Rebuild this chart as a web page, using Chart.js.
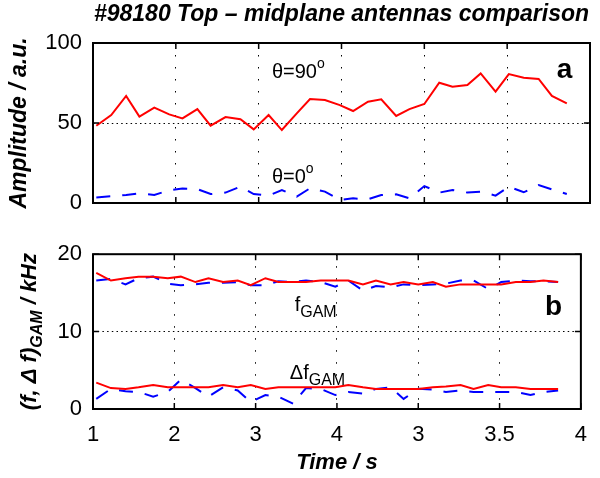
<!DOCTYPE html>
<html>
<head>
<meta charset="utf-8">
<script src="https://cdn.jsdelivr.net/npm/chart.js@4.4.1/dist/chart.umd.min.js"></script>
<style>
  html, body { margin: 0; padding: 0; background: #fff; }
  #wrap { position: relative; width: 600px; height: 478px; }
  canvas { position: absolute; left: 0; }
  #topChart { top: 0; }
  #botChart { top: 230px; }
</style>
</head>
<body>
<div id="wrap">
  <canvas id="topChart" width="600" height="230" style="width:600px;height:230px"></canvas>
  <canvas id="botChart" width="600" height="248" style="width:600px;height:248px"></canvas>
</div>
<script>
const FONT = '"Liberation Sans", Arial, Helvetica, sans-serif';

// time base (s)
const times = [1.02, 1.11, 1.20, 1.28, 1.37, 1.46, 1.54, 1.63, 1.71, 1.80,
               1.89, 1.97, 2.06, 2.14, 2.23, 2.31, 2.40, 2.49, 2.57, 2.66,
               2.74, 2.83, 2.91, 3.00, 3.09, 3.17, 3.26, 3.34, 3.43, 3.51,
               3.60, 3.69, 3.77, 3.86];

// panel a: amplitude
const ampTop = [48.3, 55, 66.9, 54, 59.6, 55.4, 52.9, 58.7, 48.3, 53.7,
                52.3, 46, 55, 45.6, 56, 65, 64.4, 61.2, 57.5, 63.3,
                64.8, 54.4, 58.7, 61.9, 75.2, 72.7, 73.7, 81, 69.6, 80.6,
                78.3, 77.5, 66.9, 62.3];
const ampMid = [3.5, 4.2, 5.0, 6.0, 5.0, 8.0, 9.0, 8.7, 5.6, 6.5,
                10.2, 5.6, 4.6, 8.1, 4.0, 9.2, 7.1, 2.0, 2.9, 2.3,
                5.0, 5.4, 2.9, 10.6, 6.5, 8.1, 6.5, 7.1, 4.6, 10.2,
                6.7, 11.2, 8.5, 5.6];

// panel b: GAM frequency and width (kHz)
const fTop = [17.6, 16.6, 16.9, 17.1, 17.1, 16.9, 17.1, 16.4, 16.9, 16.4,
              16.6, 16.0, 16.9, 16.4, 16.4, 16.4, 16.6, 16.6, 16.6, 16.1,
              16.6, 16.1, 16.4, 16.1, 16.4, 15.8, 16.1, 16.1, 16.1, 16.1,
              16.4, 16.4, 16.6, 16.4];
const fMid = [16.6, 16.8, 16.1, 16.9, 17.1, 16.2, 16.0, 16.1, 16.3, 16.3,
              16.4, 16.0, 16.0, 16.5, 16.4, 16.6, 16.4, 15.8, 16.6, 15.3,
              15.9, 15.7, 16.1, 16.0, 16.1, 16.2, 16.6, 16.6, 15.5, 16.4,
              16.6, 16.5, 16.5, 16.4];
const dfTop = [3.4, 2.7, 2.6, 2.8, 3.1, 2.8, 2.8, 2.8, 2.8, 3.1,
               2.8, 3.1, 2.6, 2.8, 2.8, 2.8, 2.8, 2.8, 3.1, 2.8,
               2.6, 2.6, 2.6, 2.6, 2.8, 2.9, 3.1, 2.6, 3.1, 2.8,
               2.8, 2.6, 2.6, 2.6];
const dfMid = [1.3, 2.6, 2.3, 2.2, 1.6, 2.2, 3.8, 2.7, 1.6, 2.8,
               2.4, 0.9, 1.8, 1.6, 0.7, 2.7, 2.6, 1.8, 2.2, 2.0,
               2.6, 2.8, 1.3, 2.6, 2.5, 2.2, 2.4, 2.2, 2.2, 2.2,
               2.2, 1.8, 2.2, 2.4];

// axis ticks (labels as printed on the figure)
const xTickValues = [1, 1.5, 2, 2.5, 3, 3.5, 4];
const xTickLabels = ['1', '2', '3', '4', '3', '3.5', '4'];
const yTopTicks = [0, 50, 100];
const yBotTicks = [0, 10, 20];

const RED = '#ff0000', BLUE = '#0000ff';
const pts = ys => ys.map((y, i) => ({x: times[i], y}));

function lineSet(ys, color, dashed) {
  return {
    data: pts(ys), borderColor: color, borderWidth: 2,
    borderDash: dashed ? [14, 12] : [], pointRadius: 0, tension: 0, fill: false
  };
}

// box round the axes and inward tick marks, like MATLAB
const frame = {
  id: 'frame',
  afterDraw(chart) {
    const {ctx, chartArea: a, scales} = chart;
    ctx.save();
    ctx.strokeStyle = '#000';
    ctx.lineWidth = 1.5;
    ctx.beginPath();
    scales.x.ticks.forEach(t => {
      const px = scales.x.getPixelForValue(t.value);
      ctx.moveTo(px, a.bottom); ctx.lineTo(px, a.bottom - 6);
      ctx.moveTo(px, a.top); ctx.lineTo(px, a.top + 6);
    });
    scales.y.ticks.forEach(t => {
      const py = scales.y.getPixelForValue(t.value);
      ctx.moveTo(a.left, py); ctx.lineTo(a.left + 6, py);
      ctx.moveTo(a.right, py); ctx.lineTo(a.right - 6, py);
    });
    ctx.stroke();
    ctx.lineWidth = 2;
    ctx.strokeRect(a.left, a.top, a.right - a.left, a.bottom - a.top);
    ctx.restore();
  }
};

// text made of pieces with sub/superscripts: [text, font, dy]
function pieces(ctx, x, y, parts) {
  let cx = x;
  parts.forEach(([t, f, dy]) => {
    ctx.font = f;
    ctx.fillText(t, cx, y + dy);
    cx += ctx.measureText(t).width;
  });
  return cx - x;
}

function labelsPlugin(items) {
  return {
    id: 'notes',
    afterDraw(chart) {
      const {ctx, scales} = chart;
      ctx.save();
      ctx.fillStyle = '#000';
      ctx.textBaseline = 'alphabetic';
      ctx.textAlign = 'left';
      items.forEach(it => {
        pieces(ctx, scales.x.getPixelForValue(it.x), scales.y.getPixelForValue(it.y), it.parts);
      });
      ctx.restore();
    }
  };
}

const R20 = '20px ' + FONT, R14 = '14px ' + FONT, R16 = '16px ' + FONT;
const B28 = 'bold 28px ' + FONT;

function xScale(showLabels) {
  return {
    type: 'linear', min: 1, max: 4,
    afterBuildTicks: s => { s.ticks = xTickValues.map(v => ({value: v})); },
    afterFit: s => { s.height = showLabels ? 69 : 27; },
    grid: { color: '#000', lineWidth: 1, drawTicks: false },
    border: { display: false, dash: [1.5, 10.5] },
    ticks: {
      display: showLabels, padding: 13, color: '#000', maxRotation: 0, autoSkip: false,
      font: { family: FONT, size: 22 },
      callback: (v, i) => xTickLabels[i]
    },
    title: {
      display: showLabels, text: 'Time / s', color: '#000',
      font: { family: FONT, size: 22, weight: 'bold', style: 'italic' },
      padding: { top: 0, bottom: 2 }
    }
  };
}

function yScale(max, tickVals, title) {
  return {
    type: 'linear', min: 0, max: max,
    afterBuildTicks: s => { s.ticks = tickVals.map(v => ({value: v})); },
    afterFit: s => { s.width = 93; },
    grid: { color: '#000', lineWidth: 1, drawTicks: false },
    border: { display: false, dash: [1.5, 3.2] },
    ticks: { padding: 11, color: '#000', font: { family: FONT, size: 22 } },
    title: title ? {
      display: true, text: title, color: '#000',
      font: { family: FONT, size: 23, weight: 'bold', style: 'italic' },
      padding: { top: 6, bottom: 0 }
    } : { display: false }
  };
}

const common = {
  responsive: false, animation: false,
  events: []
};

// panel a
new Chart(document.getElementById('topChart'), {
  type: 'line',
  data: { datasets: [lineSet(ampTop, RED, false), lineSet(ampMid, BLUE, true)] },
  options: {
    ...common,
    layout: { padding: { left: 0, right: 10, top: 0, bottom: 0 } },
    scales: { x: xScale(false), y: yScale(100, yTopTicks, 'Amplitude / a.u.') },
    plugins: {
      legend: { display: false }, tooltip: { enabled: false },
      title: {
        display: true, fullSize: false, color: '#000',
        text: '#98180 Top \u2013 midplane antennas comparison',
        font: { family: FONT, size: 23, weight: 'bold', style: 'italic' },
        padding: { top: 1, bottom: 14.4 }
      }
    }
  },
  plugins: [frame, labelsPlugin([
    { x: 2.08, y: 78, parts: [['\u03b8=90', R20, 0], ['o', R14, -10]] },
    { x: 2.08, y: 12.5, parts: [['\u03b8=0', R20, 0], ['o', R14, -10]] },
    { x: 3.80, y: 78, parts: [['a', B28, 0]] }
  ])]
});

// panel b, y title drawn by hand for the GAM subscript
const yTitleB = {
  id: 'yTitleB',
  afterDraw(chart) {
    const {ctx, chartArea: a} = chart;
    const main = 'bold italic 22px ' + FONT, sub = 'bold italic 16px ' + FONT;
    const parts = [['(f, \u0394 f)', main, 0], ['GAM', sub, 6], [' / kHz', main, 0]];
    ctx.save();
    let w = 0;
    parts.forEach(([t, f]) => { ctx.font = f; w += ctx.measureText(t).width; });
    ctx.translate(36, (a.top + a.bottom) / 2);
    ctx.rotate(-Math.PI / 2);
    ctx.fillStyle = '#000';
    ctx.textBaseline = 'alphabetic';
    pieces(ctx, -w / 2, 0, parts);
    ctx.restore();
  }
};

new Chart(document.getElementById('botChart'), {
  type: 'line',
  data: { datasets: [
    lineSet(fTop, RED, false), lineSet(dfTop, RED, false),
    lineSet(fMid, BLUE, true), lineSet(dfMid, BLUE, true)
  ] },
  options: {
    ...common,
    layout: { padding: { left: 0, right: 10, top: 20, bottom: 0 } },
    scales: { x: xScale(true), y: yScale(20, yBotTicks, null) },
    plugins: { legend: { display: false }, tooltip: { enabled: false } }
  },
  plugins: [frame, yTitleB, labelsPlugin([
    { x: 2.24, y: 12.7, parts: [['f', R20, 0], ['GAM', R16, 6]] },
    { x: 2.21, y: 3.9, parts: [['\u0394f', R20, 0], ['GAM', R16, 6]] },
    { x: 3.78, y: 12.1, parts: [['b', B28, 0]] }
  ])]
});
</script>
</body>
</html>
